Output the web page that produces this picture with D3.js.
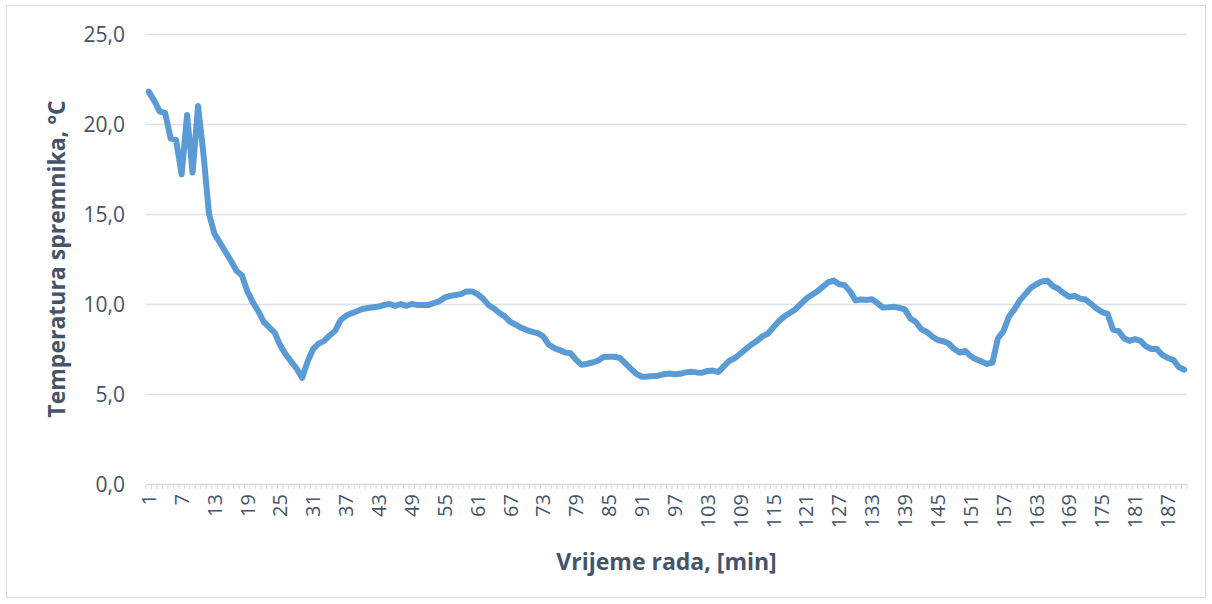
<!DOCTYPE html>
<html>
<head>
<meta charset="utf-8">
<script src="https://cdn.jsdelivr.net/npm/d3@7"></script>
<style>
  body { margin: 0; background: #fff; }
  svg text { font-family: "Open Sans", "Noto Sans", sans-serif; fill: #44546a; }
</style>
</head>
<body>
<div id="chart"></div>
<script>
var W = 1212, H = 604;

// minutes 1..190, tank temperature in °C
var temps = [
  21.8, 21.3, 20.7, 20.6, 19.2, 19.1, 17.2, 20.5, 17.3, 21.0,
  18.3, 15.0, 13.9, 13.4, 12.9, 12.4, 11.85, 11.6, 10.7, 10.1,
  9.6, 9.0, 8.7, 8.4, 7.7, 7.2, 6.8, 6.4, 5.9, 6.8,
  7.5, 7.8, 7.95, 8.25, 8.5, 9.1, 9.35, 9.48, 9.6, 9.72,
  9.78, 9.82, 9.86, 9.95, 10.0, 9.9, 10.0, 9.9, 10.0, 9.95,
  9.94, 9.94, 10.05, 10.15, 10.35, 10.45, 10.5, 10.55, 10.7, 10.7,
  10.55, 10.3, 9.95, 9.75, 9.5, 9.3, 9.0, 8.85, 8.68, 8.55,
  8.45, 8.38, 8.2, 7.75, 7.55, 7.44, 7.3, 7.26, 6.9, 6.62,
  6.68, 6.75, 6.85, 7.05, 7.07, 7.07, 7.0, 6.7, 6.4, 6.12,
  5.96, 5.97, 6.0, 6.02, 6.1, 6.14, 6.1, 6.12, 6.2, 6.24,
  6.2, 6.18, 6.28, 6.3, 6.22, 6.55, 6.85, 7.0, 7.25, 7.5,
  7.75, 7.95, 8.2, 8.35, 8.7, 9.05, 9.3, 9.5, 9.7, 10.0,
  10.3, 10.5, 10.7, 10.95, 11.2, 11.3, 11.1, 11.05, 10.7, 10.2,
  10.25, 10.22, 10.26, 10.05, 9.8, 9.82, 9.85, 9.78, 9.7, 9.2,
  9.0, 8.6, 8.45, 8.2, 8.0, 7.93, 7.8, 7.5, 7.3, 7.4,
  7.1, 6.93, 6.8, 6.67, 6.75, 8.1, 8.5, 9.3, 9.7, 10.2,
  10.55, 10.9, 11.1, 11.25, 11.3, 11.0, 10.85, 10.6, 10.4, 10.45,
  10.3, 10.25, 10.0, 9.75, 9.55, 9.45, 8.58, 8.5, 8.1, 7.95,
  8.05, 7.95, 7.65, 7.5, 7.5, 7.17, 7.0, 6.9, 6.5, 6.35
];
var minutes = temps.map(function(d, i) { return i + 1; });
var yTicks = [0, 5, 10, 15, 20, 25];
var xTitle = "Vrijeme rada, [min]";
var yTitle = "Temperatura spremnika, °C";

// plot edges (window.top is taken, so use own names)
var plotL = 146, plotR = 1187, plotT = 34, plotB = 484;

var svg = d3.select("#chart").append("svg")
  .attr("width", W)
  .attr("height", H);

// outer chart border
svg.append("rect")
  .attr("x", 6.5).attr("y", 5.5)
  .attr("width", 1199).attr("height", 592)
  .attr("fill", "none")
  .attr("stroke", "#d9d9d9");

var x = d3.scaleBand().domain(minutes).range([plotL, plotR]).padding(0);
var y = d3.scaleLinear().domain([0, 25]).range([plotB, plotT]);

// horizontal gridlines
svg.append("g").selectAll("line")
  .data(yTicks.filter(function(d) { return d > 0; }))
  .enter().append("line")
    .attr("x1", plotL).attr("x2", plotR)
    .attr("y1", function(d) { return y(d) + 0.5; })
    .attr("y2", function(d) { return y(d) + 0.5; })
    .attr("stroke", "#dde1e8")
    .attr("stroke-width", 1.5);

// y labels
svg.append("g").selectAll("text")
  .data(yTicks)
  .enter().append("text")
    .attr("x", 125)
    .attr("y", function(d) { return y(d); })
    .attr("dy", "0.36em")
    .attr("text-anchor", "end")
    .style("font-size", "21px")
    .text(function(d) { return d3.format(".1f")(d).replace(".", ","); });

// x axis line and category tick marks
svg.append("line")
  .attr("x1", plotL).attr("x2", plotR)
  .attr("y1", plotB + 0.5).attr("y2", plotB + 0.5)
  .attr("stroke", "#d9d9d9")
  .attr("stroke-width", 1.5);

var bounds = minutes.map(function(d) { return x(d); }).concat([plotR]);
svg.append("g").selectAll("line")
  .data(bounds)
  .enter().append("line")
    .attr("x1", function(d) { return d; })
    .attr("x2", function(d) { return d; })
    .attr("y1", plotB).attr("y2", plotB + 5)
    .attr("stroke", "#d9d9d9")
    .attr("stroke-width", 1);

// x labels every 6 minutes
var xAxis = d3.axisBottom(x)
  .tickValues(minutes.filter(function(d) { return (d - 1) % 6 === 0; }))
  .tickSize(0);

var gx = svg.append("g")
  .attr("transform", "translate(0," + plotB + ")")
  .call(xAxis);
gx.select(".domain").remove();
gx.selectAll("text")
  .attr("transform", "rotate(-90)")
  .attr("x", -10)
  .attr("y", 0)
  .attr("dy", "0.36em")
  .attr("text-anchor", "end")
  .style("font-size", "20px")
  .style("font-family", "'Open Sans', sans-serif")
  .attr("fill", "#44546a");

// line
var line = d3.line()
  .x(function(d, i) { return x(minutes[i]) + x.bandwidth() / 2; })
  .y(function(d) { return y(d); });

svg.append("path")
  .datum(temps)
  .attr("d", line)
  .attr("fill", "none")
  .attr("stroke", "#5b9bd5")
  .attr("stroke-width", 6)
  .attr("stroke-linejoin", "round")
  .attr("stroke-linecap", "round");

// axis titles
svg.append("text")
  .attr("x", (plotL + plotR) / 2)
  .attr("y", 570)
  .attr("text-anchor", "middle")
  .style("font-size", "23px")
  .style("font-weight", "bold")
  .text(xTitle);

svg.append("text")
  .attr("transform", "translate(65," + ((plotT + plotB) / 2) + ") rotate(-90)")
  .attr("text-anchor", "middle")
  .style("font-size", "23px")
  .style("font-weight", "bold")
  .text(yTitle);
</script>
</body>
</html>
